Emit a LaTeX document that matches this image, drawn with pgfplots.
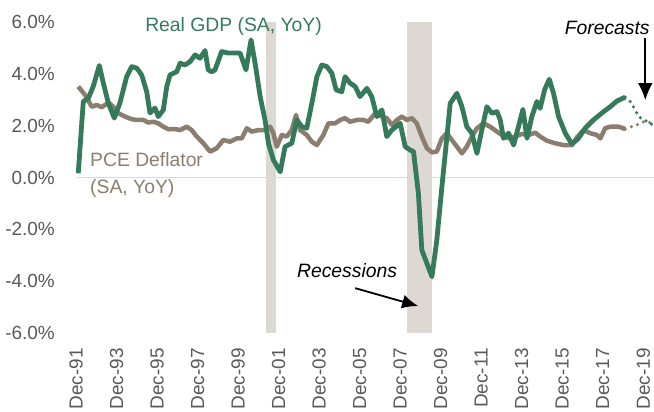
\documentclass[border=0pt]{standalone}
\usepackage{fontspec}
\setmainfont{Liberation Sans}
\usepackage{pgfplots}
\usepackage{pgfplotstable}
\pgfplotsset{compat=1.18}
\usetikzlibrary{arrows.meta}

\definecolor{gdp}{HTML}{357A5B}
\definecolor{pce}{HTML}{8B7E6E}
\definecolor{recess}{HTML}{DDD8D2}
\definecolor{zeroln}{HTML}{D9D9D9}
\definecolor{ticktxt}{HTML}{595959}

% Real GDP, YoY %
\pgfplotstableread{
x y
1992.03 0.16
1992.28 2.93
1992.53 3.06
1992.77 3.51
1993.07 4.32
1993.27 3.64
1993.52 2.86
1993.81 2.29
1994.09 2.88
1994.42 3.89
1994.67 4.28
1994.92 4.22
1995.16 3.96
1995.41 3.31
1995.57 2.49
1995.82 2.68
1995.98 2.35
1996.23 2.61
1996.40 3.51
1996.56 3.96
1996.89 4.08
1997.06 4.41
1997.30 4.34
1997.55 4.47
1997.80 4.73
1998.04 4.60
1998.29 4.90
1998.45 4.15
1998.62 4.08
1998.78 4.15
1999.11 4.86
1999.44 4.80
1999.77 4.80
2000.02 4.80
2000.31 4.15
2000.56 5.31
2000.76 4.41
2001.01 3.12
2001.25 2.22
2001.42 1.32
2001.66 0.68
2002.00 0.22
2002.24 1.19
2002.57 1.32
2002.82 2.22
2003.07 1.96
2003.31 1.90
2003.56 2.86
2003.81 3.89
2004.05 4.34
2004.30 4.28
2004.55 4.02
2004.76 3.38
2005.04 3.31
2005.20 3.89
2005.45 3.64
2005.70 3.51
2005.94 3.12
2006.28 3.44
2006.52 3.12
2006.77 2.35
2007.02 2.61
2007.26 1.58
2007.51 1.83
2007.92 2.09
2008.17 1.19
2008.41 1.06
2008.58 1.00
2008.82 -0.61
2008.99 -2.80
2009.49 -3.83
2009.73 -2.41
2009.98 -0.36
2010.23 1.58
2010.39 2.86
2010.72 3.25
2010.97 2.73
2011.21 1.96
2011.46 1.71
2011.71 0.93
2011.95 1.83
2012.20 2.73
2012.45 2.48
2012.70 2.54
2012.86 2.22
2013.02 1.51
2013.27 1.71
2013.52 1.25
2013.76 1.96
2013.98 2.63
2014.18 1.51
2014.42 2.35
2014.67 2.93
2014.83 2.67
2015.05 3.38
2015.28 3.79
2015.49 3.25
2015.74 2.35
2016.07 1.71
2016.40 1.29
2016.72 1.51
2017.05 1.90
2017.46 2.22
2017.96 2.54
2018.29 2.73
2018.62 2.95
2019.03 3.10
}\gdptable

\pgfplotstableread{
x y
2019.03 3.10
2019.28 2.93
2019.48 2.67
2019.69 2.35
2019.94 2.22
2020.18 2.15
2020.43 1.99
}\gdpfcst

% PCE deflator, YoY %
\pgfplotstableread{
x y
1992.03 3.51
1992.36 3.19
1992.70 2.73
1992.94 2.80
1993.19 2.71
1993.52 2.89
1993.76 2.73
1994.01 2.48
1994.34 2.35
1994.67 2.25
1994.92 2.22
1995.24 2.22
1995.49 2.12
1995.74 2.15
1995.98 2.09
1996.23 1.96
1996.48 1.86
1996.81 1.87
1997.06 1.83
1997.39 1.96
1997.63 1.83
1997.88 1.58
1998.21 1.32
1998.54 1.00
1998.87 1.13
1999.19 1.45
1999.52 1.38
1999.86 1.51
2000.10 1.51
2000.35 1.90
2000.60 1.77
2000.92 1.83
2001.25 1.83
2001.50 1.96
2001.66 1.71
2001.83 1.19
2002.08 1.64
2002.32 1.58
2002.57 1.83
2002.78 2.41
2002.98 1.83
2003.31 1.64
2003.56 1.38
2003.81 1.25
2004.13 1.64
2004.38 2.09
2004.71 2.09
2004.96 2.22
2005.20 2.29
2005.45 2.15
2005.78 2.22
2006.11 2.22
2006.35 2.15
2006.69 2.48
2007.02 2.35
2007.26 2.29
2007.51 2.03
2007.76 2.22
2008.00 2.35
2008.25 2.22
2008.50 2.29
2008.74 2.09
2008.99 1.58
2009.24 1.13
2009.49 0.97
2009.73 1.00
2009.98 1.51
2010.23 1.71
2010.47 1.45
2010.72 1.19
2010.97 0.93
2011.21 1.19
2011.46 1.58
2011.71 1.90
2012.03 2.09
2012.36 1.96
2012.70 1.77
2012.94 1.64
2013.27 1.51
2013.60 1.58
2013.93 1.68
2014.26 1.64
2014.59 1.73
2014.83 1.58
2015.16 1.42
2015.57 1.32
2015.98 1.25
2016.40 1.25
2016.65 1.55
2016.97 1.83
2017.30 1.71
2017.63 1.64
2017.80 1.51
2018.04 1.90
2018.29 1.96
2018.70 1.96
2019.03 1.87
}\pcetable

\pgfplotstableread{
x y
2019.03 1.87
2019.28 1.94
2019.61 2.03
2019.94 2.15
2020.18 2.15
2020.43 2.03
}\pcefcst

\begin{document}
\begin{tikzpicture}
\begin{axis}[
    scale only axis,
    width=578bp, height=311bp,
    xmin=1991.92, xmax=2020.45,
    ymin=-6, ymax=6,
    clip mode=individual,
    axis line style={draw=none},
    major tick length=0pt,
    xtick={1991.92,1993.92,1995.92,1997.92,1999.92,2001.92,2003.92,2005.92,2007.92,2009.92,2011.92,2013.92,2015.92,2017.92,2019.92},
    xticklabels={Dec-91,Dec-93,Dec-95,Dec-97,Dec-99,Dec-01,Dec-03,Dec-05,Dec-07,Dec-09,Dec-11,Dec-13,Dec-15,Dec-17,Dec-19},
    ytick={-6,-4,-2,0,2,4,6},
    yticklabel={\pgfmathprintnumber[fixed,fixed zerofill,precision=1]{\tick}\%},
    /pgf/number format/assume math mode=true,
    ticklabel style={font=\fontsize{19}{22}\selectfont, text=ticktxt},
    xticklabel style={rotate=90, anchor=east, inner sep=0pt},
    yticklabel style={anchor=east, inner sep=0pt},
    xticklabel shift=15bp,
    yticklabel shift=21bp,
]
% zero line
\addplot[zeroln, line width=1.5bp] coordinates {(1991.92,0) (2020.45,0)};

% recessions
\addplot[draw=none, fill=recess] coordinates {(2001.30,-6) (2001.30,6) (2001.79,6) (2001.79,-6)};
\addplot[draw=none, fill=recess] coordinates {(2008.27,-6) (2008.27,6) (2009.50,6) (2009.50,-6)};

% series
\addplot[pce, line width=4.5bp, line join=round] table {\pcetable};
\addplot[pce, line width=3.5bp, line cap=round, dash pattern=on 0pt off 6.5bp] table {\pcefcst};
\addplot[gdp, line width=4.8bp, line join=round] table {\gdptable};
\addplot[gdp, line width=3.5bp, line cap=round, dash pattern=on 0pt off 6.5bp] table {\gdpfcst};

% labels
\node[anchor=west, inner sep=0pt, text=gdp, font=\fontsize{19.4}{23}\selectfont]
    at (axis cs:1995.33,5.81) {Real GDP (SA, YoY)};
\node[anchor=west, align=left, inner sep=0pt, text=pce, font=\fontsize{19.4}{27}\selectfont]
    at (axis cs:1992.61,0.08) {PCE Deflator\\(SA, YoY)};

\node[inner sep=0pt, font=\fontsize{19.4}{23}\selectfont\itshape]
    at (axis cs:2005.30,-3.61) {Recessions};
\draw[-{Latex[length=16bp,width=14bp]}, line width=1.8bp]
    (axis cs:2005.70,-4.27) -- (axis cs:2008.81,-4.96);

\node[inner sep=0pt, font=\fontsize{19.4}{23}\selectfont\itshape]
    at (axis cs:2018.14,5.77) {Forecasts};
\draw[-{Latex[length=17bp,width=15bp]}, line width=1.8bp]
    (axis cs:2020.02,5.39) -- (axis cs:2020.02,2.99);
\end{axis}
\pgfresetboundingbox
\path ([xshift=-76bp,yshift=-79bp]current axis.south west) rectangle ([yshift=22bp]current axis.north east);
\end{tikzpicture}
\end{document}
